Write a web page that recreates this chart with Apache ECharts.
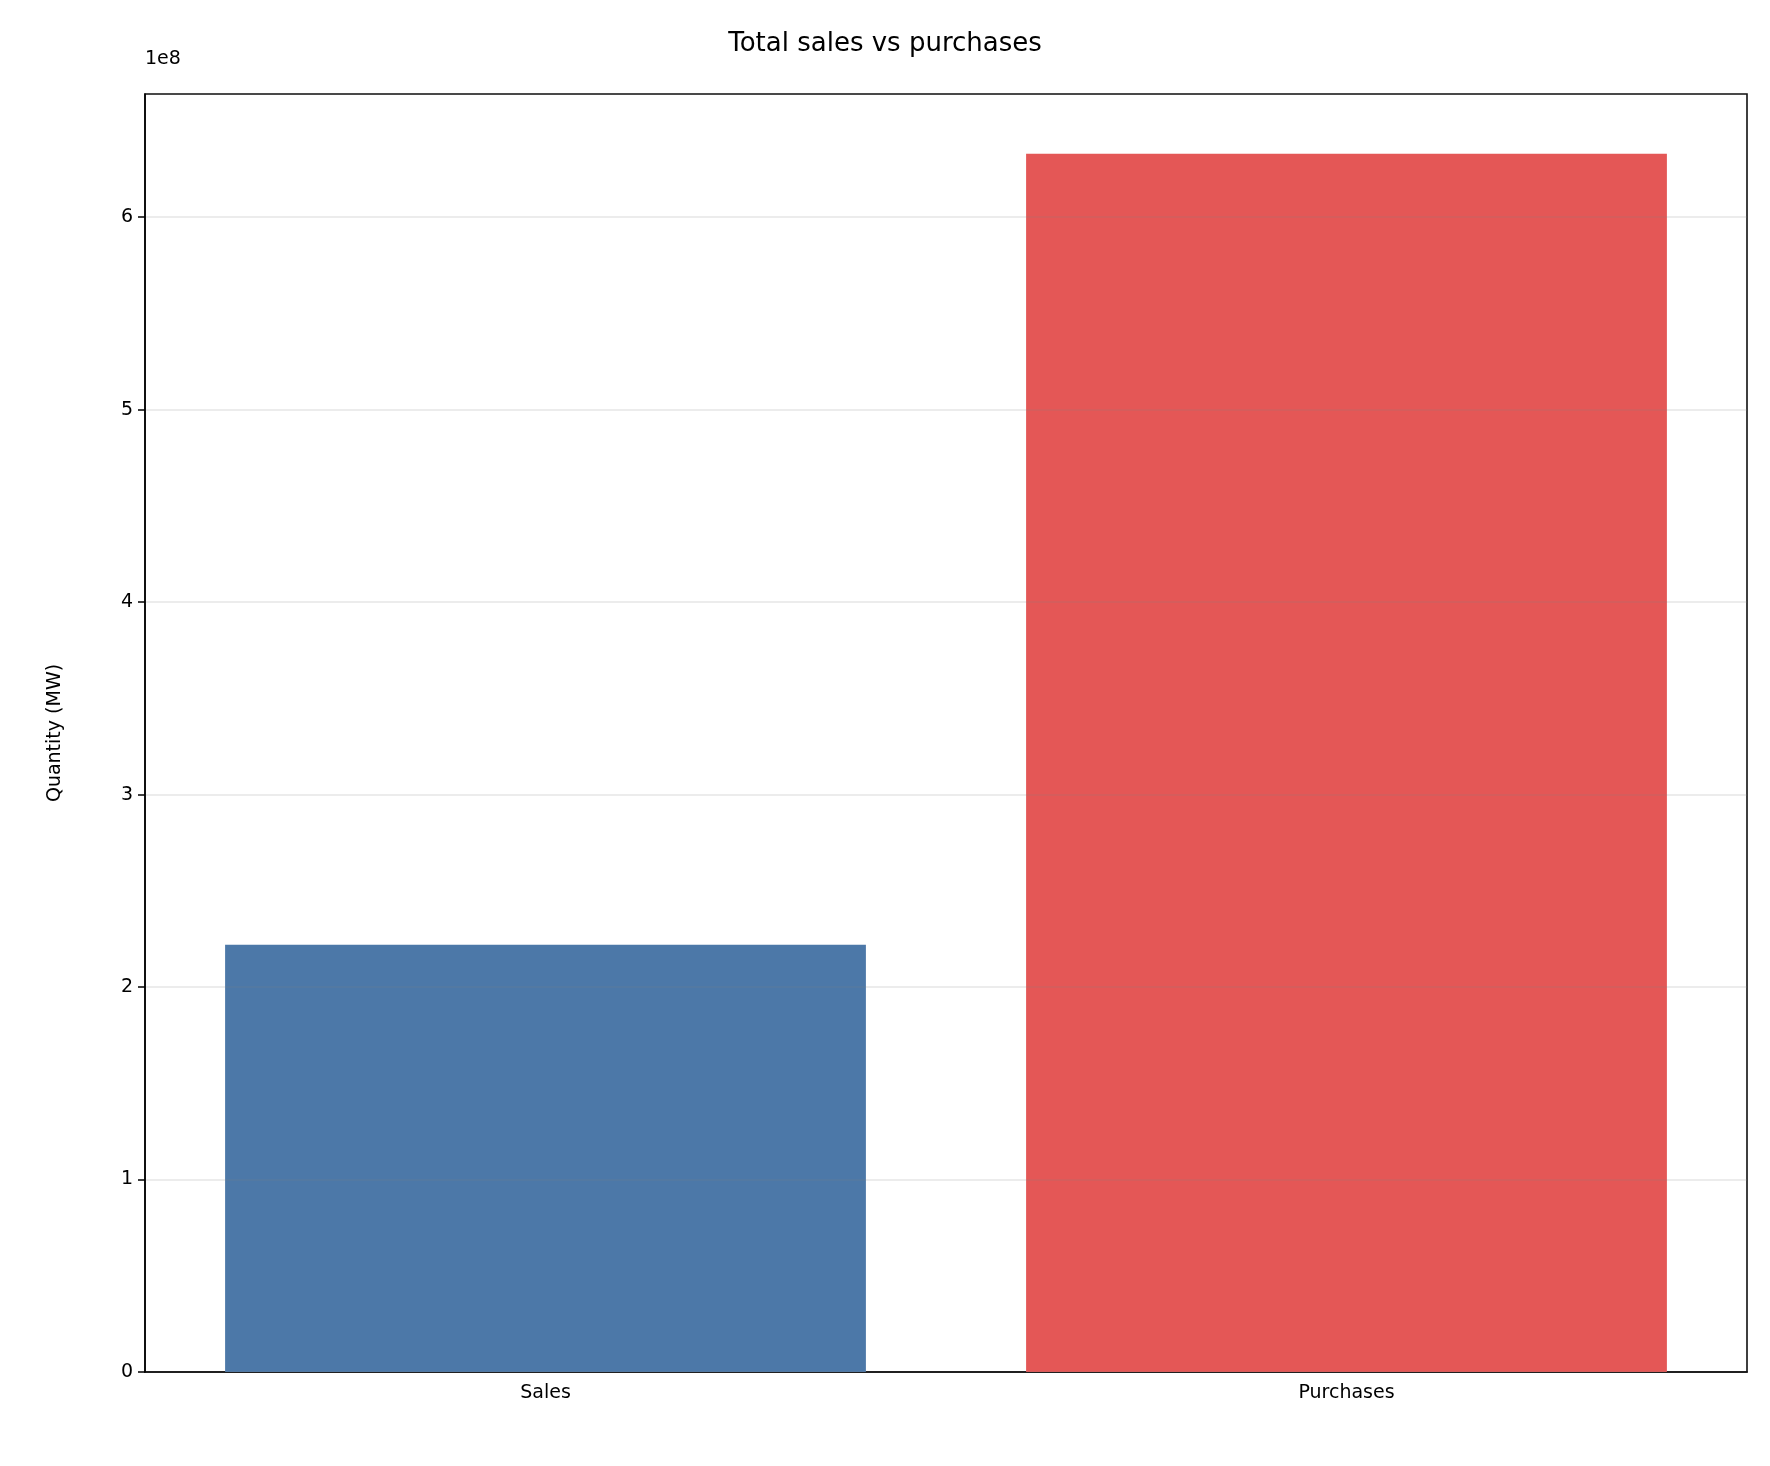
<!DOCTYPE html>
<html>
<head>
<meta charset="utf-8">
<script src="https://cdn.jsdelivr.net/npm/echarts@6/dist/echarts.min.js"></script>
<style>html,body{margin:0;padding:0;background:#fff}#chart{width:1770px;height:1466px}</style>
</head>
<body>
<div id="chart"></div>
<script>
var categories = ['Sales', 'Purchases'];
var quantities = [2.22e8, 6.33e8];
var barColors = ['#4c78a8', '#e45756'];

var chart = echarts.init(document.getElementById('chart'), null, { renderer: 'canvas' });
var font = 'DejaVu Sans';

chart.setOption({
    animation: false,
    title: {
        text: 'Total sales vs purchases',
        left: 'center',
        top: 26,
        textStyle: { fontFamily: font, fontSize: 26, fontWeight: 'normal', color: '#000' }
    },
    graphic: [{
        type: 'text', left: 145, top: 50,
        style: { text: '1e8', fontFamily: font, fontSize: 19, fill: '#000' }
    }],
    grid: { left: 145, right: 23, top: 94, bottom: 94, show: true, borderColor: '#000', borderWidth: 1.5 },
    xAxis: {
        type: 'category',
        data: categories,
        axisLine: { lineStyle: { color: '#000', width: 1.5 } },
        axisTick: { alignWithLabel: true, length: 7, lineStyle: { color: '#000', width: 1.5 } },
        axisLabel: { fontFamily: font, fontSize: 19, color: '#000', margin: 12 }
    },
    yAxis: {
        type: 'value',
        min: 0,
        max: 6.64e8,
        interval: 1e8,
        z: 3,
        name: 'Quantity (MW)',
        nameLocation: 'middle',
        nameGap: 80,
        nameTextStyle: { fontFamily: font, fontSize: 19, color: '#000' },
        axisLine: { show: true, lineStyle: { color: '#000', width: 1.5 } },
        axisTick: { show: true, length: 7, lineStyle: { color: '#000', width: 1.5 } },
        axisLabel: {
            fontFamily: font, fontSize: 19, color: '#000', margin: 12,
            formatter: function (v) { return String(Math.round(v / 1e8)); },
            showMaxLabel: false
        },
        splitLine: { lineStyle: { color: 'rgba(128,128,128,0.2)', width: 1.5 } }
    },
    series: [{
        type: 'bar',
        barWidth: '80%',
        data: quantities.map(function (v, i) {
            return { value: v, itemStyle: { color: barColors[i] } };
        })
    }]
});
</script>
</body>
</html>
